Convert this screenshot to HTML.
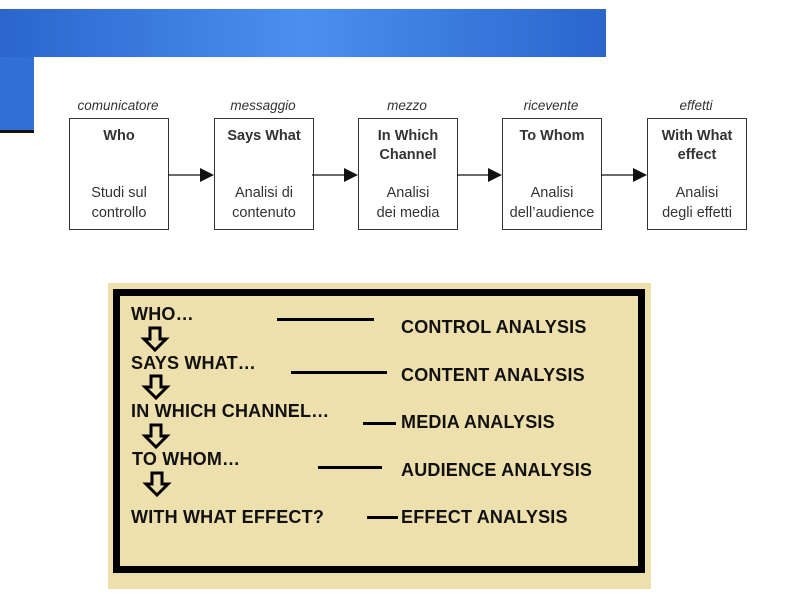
<!DOCTYPE html>
<html><head><style>
body{margin:0;width:794px;height:595px;background:#fff;position:relative;overflow:hidden;font-family:"Liberation Sans",sans-serif}
.a{position:absolute}
.box{position:absolute;top:118px;width:98px;height:110px;border:1px solid #333;background:#fff;text-align:center;font-size:14.5px;color:#333}
.box b{position:absolute;top:8px;left:0;right:0;line-height:19px}
.box span{position:absolute;top:64px;left:0;right:0;line-height:20px}
.lab{position:absolute;top:98px;width:100px;text-align:center;font-style:italic;font-size:13.5px;color:#333}
.t{position:absolute;font-weight:bold;font-size:18px;letter-spacing:0.2px;color:#111;white-space:nowrap}
.ln{position:absolute;height:3px;background:#000}
</style></head><body>
<div class="a" style="left:0;top:9px;width:606px;height:48px;background:linear-gradient(90deg,#2a66cc,#4a8ff0 50%,#2a66cc)"></div>
<div class="a" style="left:0;top:57px;width:34px;height:73px;background:#2f6fd6"></div>
<div class="a" style="left:0;top:130px;width:34px;height:3px;background:#111"></div>
<div class="lab" style="left:68px">comunicatore</div>
<div class="lab" style="left:213px">messaggio</div>
<div class="lab" style="left:357px">mezzo</div>
<div class="lab" style="left:501px">ricevente</div>
<div class="lab" style="left:646px">effetti</div>
<div class="box" style="left:69px"><b>Who</b><span>Studi sul<br>controllo</span></div>
<div class="box" style="left:214px"><b>Says What</b><span>Analisi di<br>contenuto</span></div>
<div class="box" style="left:358px"><b>In Which<br>Channel</b><span>Analisi<br>dei media</span></div>
<div class="box" style="left:502px"><b>To Whom</b><span>Analisi<br>dell’audience</span></div>
<div class="box" style="left:647px"><b>With What<br>effect</b><span>Analisi<br>degli effetti</span></div>
<svg class="a" style="left:0;top:0" width="794" height="300">
<g stroke="#111" stroke-width="1.3"><line x1="168" y1="175" x2="202" y2="175"/><line x1="312" y1="175" x2="346" y2="175"/><line x1="457" y1="175" x2="490" y2="175"/><line x1="601" y1="175" x2="635" y2="175"/></g>
<g fill="#111"><polygon points="200,168 214,175 200,182"/><polygon points="344,168 358,175 344,182"/><polygon points="488,168 502,175 488,182"/><polygon points="633,168 647,175 633,182"/></g>
</svg>
<div class="a" style="left:108px;top:283px;width:543px;height:306px;background:#eee0ad"></div>
<div class="a" style="left:113px;top:289px;width:518px;height:270px;border:7px solid #000"></div>
<div class="t" style="left:131px;top:304px">WHO…</div>
<div class="t" style="left:131px;top:353px">SAYS WHAT…</div>
<div class="t" style="left:131px;top:401px">IN WHICH CHANNEL…</div>
<div class="t" style="left:132px;top:449px">TO WHOM…</div>
<div class="t" style="left:131px;top:507px">WITH WHAT EFFECT?</div>
<div class="t" style="left:401px;top:317px">CONTROL ANALYSIS</div>
<div class="t" style="left:401px;top:365px">CONTENT ANALYSIS</div>
<div class="t" style="left:401px;top:412px">MEDIA ANALYSIS</div>
<div class="t" style="left:401px;top:460px">AUDIENCE ANALYSIS</div>
<div class="t" style="left:401px;top:507px">EFFECT ANALYSIS</div>
<div class="ln" style="left:277px;top:318px;width:97px"></div>
<div class="ln" style="left:291px;top:371px;width:96px"></div>
<div class="ln" style="left:363px;top:422px;width:33px"></div>
<div class="ln" style="left:318px;top:466px;width:64px"></div>
<div class="ln" style="left:367px;top:516px;width:31px"></div>
<svg class="a" style="left:0;top:0" width="794" height="595">
<g fill="none" stroke="#000" stroke-width="3" stroke-linejoin="miter">
<polygon points="150,328 160,328 160,339 166,339 155,350 144,339 150,339"/>
<polygon points="151,376 161,376 161,387 167,387 156,398 145,387 151,387"/>
<polygon points="151,425 161,425 161,436 167,436 156,447 145,436 151,436"/>
<polygon points="152,473 162,473 162,484 168,484 157,495 146,484 152,484"/>
</g></svg>
</body></html>
